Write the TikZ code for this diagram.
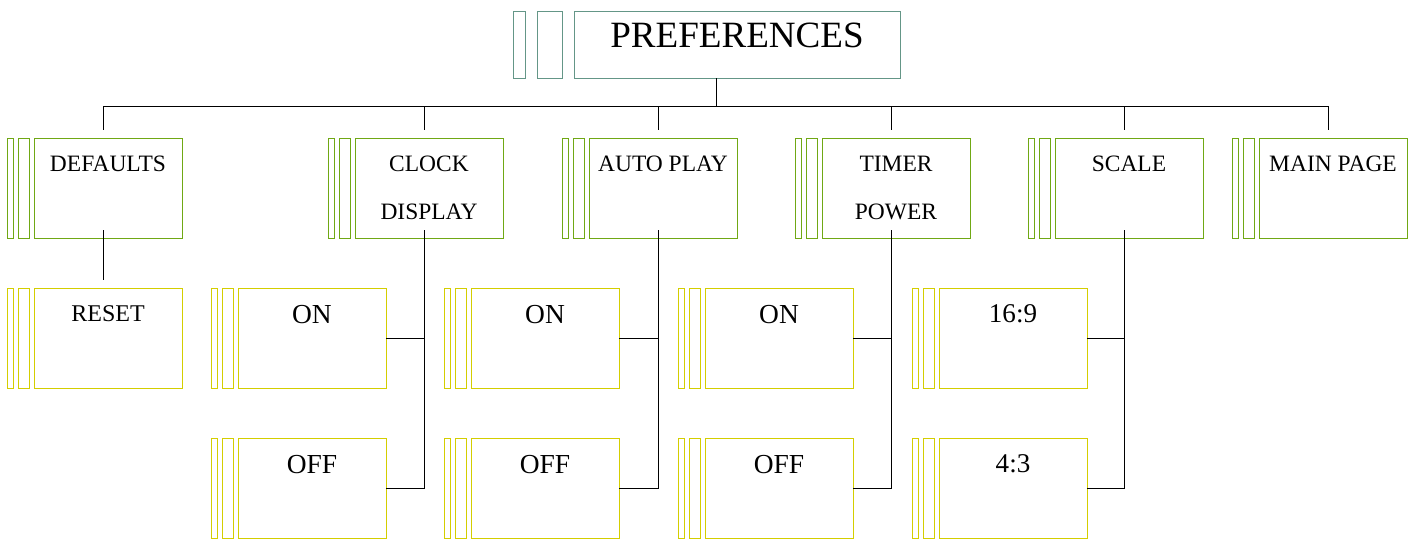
\documentclass[tikz,border=0pt]{standalone}
\usepackage{fontspec}
\setmainfont{Liberation Serif}
\definecolor{prefteal}{RGB}{100,150,135}
\definecolor{lvlgreen}{RGB}{112,168,20}
\definecolor{lvlyellow}{RGB}{212,206,0}
\tikzset{
    box/.style={draw=#1,line width=0.75pt,minimum width=111pt,minimum height=75pt,anchor=north west,inner sep=0pt,outer sep=0pt},
    caption/.style={font=\fontsize{#1}{36}\selectfont,anchor=north,align=center,inner sep=0pt},
    strip/.style={#1,line width=0.75pt},
    link/.style={black,line width=0.75pt},
}
\begin{document}
\begin{tikzpicture}[x=0.75pt,y=-0.75pt]
        \useasboundingbox (0,0) rectangle (1418,540);
        %% Top
        \node[box=prefteal,minimum width=244.5pt,minimum height=50.25pt,label={[caption=27.8,yshift=-8.6pt]north:PREFERENCES}] (pref) at (574,11) {};
        \draw[strip=prefteal] (pref.north west) ++(-61,0) rectangle ++(12,67);
        \draw[strip=prefteal] (pref.north west) ++(-37,0) rectangle ++(25,67);
        %% First level
        \node[box=lvlgreen,label={[caption=17.6,yshift=-13pt]north:DEFAULTS}] (defaults) at (34,138) {};
        \node[box=lvlgreen,label={[caption=17.6,yshift=-13.5pt]north:CLOCK\\DISPLAY}] (clock) at (355,138) {};
        \node[box=lvlgreen,label={[caption=17.6,yshift=-13pt]north:AUTO PLAY}] (autoplay) at (589,138) {};
        \node[box=lvlgreen,label={[caption=17.6,yshift=-13.5pt]north:TIMER\\POWER}] (timer) at (822,138) {};
        \node[box=lvlgreen,label={[caption=17.6,yshift=-13pt]north:SCALE}] (scale) at (1055,138) {};
        \node[box=lvlgreen,label={[caption=17.6,yshift=-13pt]north:MAIN PAGE}] (mainpage) at (1259,138) {};
        %% Second level
        \node[box=lvlyellow,label={[caption=18,yshift=-12.8pt]north:RESET}] (reset) at (34,288) {};
        \node[box=lvlyellow,label={[caption=20.6,yshift=-12.6pt]north:ON}] (clockon) at (238,288) {};
        \node[box=lvlyellow,label={[caption=20.6,yshift=-12.6pt]north:OFF}] (clockoff) at (238,438) {};
        \node[box=lvlyellow,label={[caption=20.6,yshift=-12.6pt]north:ON}] (autoon) at (471,288) {};
        \node[box=lvlyellow,label={[caption=20.6,yshift=-12.6pt]north:OFF}] (autooff) at (471,438) {};
        \node[box=lvlyellow,label={[caption=20.6,yshift=-12.6pt]north:ON}] (timeron) at (705,288) {};
        \node[box=lvlyellow,label={[caption=20.6,yshift=-12.6pt]north:OFF}] (timeroff) at (705,438) {};
        \node[box=lvlyellow,label={[caption=20.3,yshift=-12.6pt]north:{16:9}}] (widescale) at (939,288) {};
        \node[box=lvlyellow,label={[caption=20.3,yshift=-12.6pt]north:{4:3}}] (oldscale) at (939,438) {};
        %% Side strips
        \foreach \n in {defaults,clock,autoplay,timer,scale,mainpage} {
            \draw[strip=lvlgreen] (\n.north west) ++(-27,0) rectangle ++(6,100);
            \draw[strip=lvlgreen] (\n.north west) ++(-16,0) rectangle ++(11,100);
        }
        \foreach \n in {reset,clockon,clockoff,autoon,autooff,timeron,timeroff,widescale,oldscale} {
            \draw[strip=lvlyellow] (\n.north west) ++(-27,0) rectangle ++(6,100);
            \draw[strip=lvlyellow] (\n.north west) ++(-16,0) rectangle ++(11,100);
        }
        %% Connectors
        \coordinate (hub) at ([xshift=-15.2pt,yshift=-21pt]pref.south);
        \draw[link] ([xshift=-15.2pt]pref.south) -- (hub);
        \foreach \n in {defaults,clock,autoplay,timer,scale,mainpage}
            \draw[link] (hub) -| ([xshift=-3.75pt,yshift=6pt]\n.north);
        \draw[link] ([xshift=-3.75pt,yshift=6pt]defaults.south) -- ([xshift=-3.75pt,yshift=6pt]reset.north);
        \draw[link] ([xshift=-3.75pt,yshift=6pt]clock.south) |- (clockoff.east);
        \draw[link] (clockon.east) -- ([xshift=-3.75pt]clock.south |- clockon.east);
        \draw[link] ([xshift=-3.75pt,yshift=6pt]autoplay.south) |- (autooff.east);
        \draw[link] (autoon.east) -- ([xshift=-3.75pt]autoplay.south |- autoon.east);
        \draw[link] ([xshift=-3.75pt,yshift=6pt]timer.south) |- (timeroff.east);
        \draw[link] (timeron.east) -- ([xshift=-3.75pt]timer.south |- timeron.east);
        \draw[link] ([xshift=-3.75pt,yshift=6pt]scale.south) |- (oldscale.east);
        \draw[link] (widescale.east) -- ([xshift=-3.75pt]scale.south |- widescale.east);
    \end{tikzpicture}
\end{document}
